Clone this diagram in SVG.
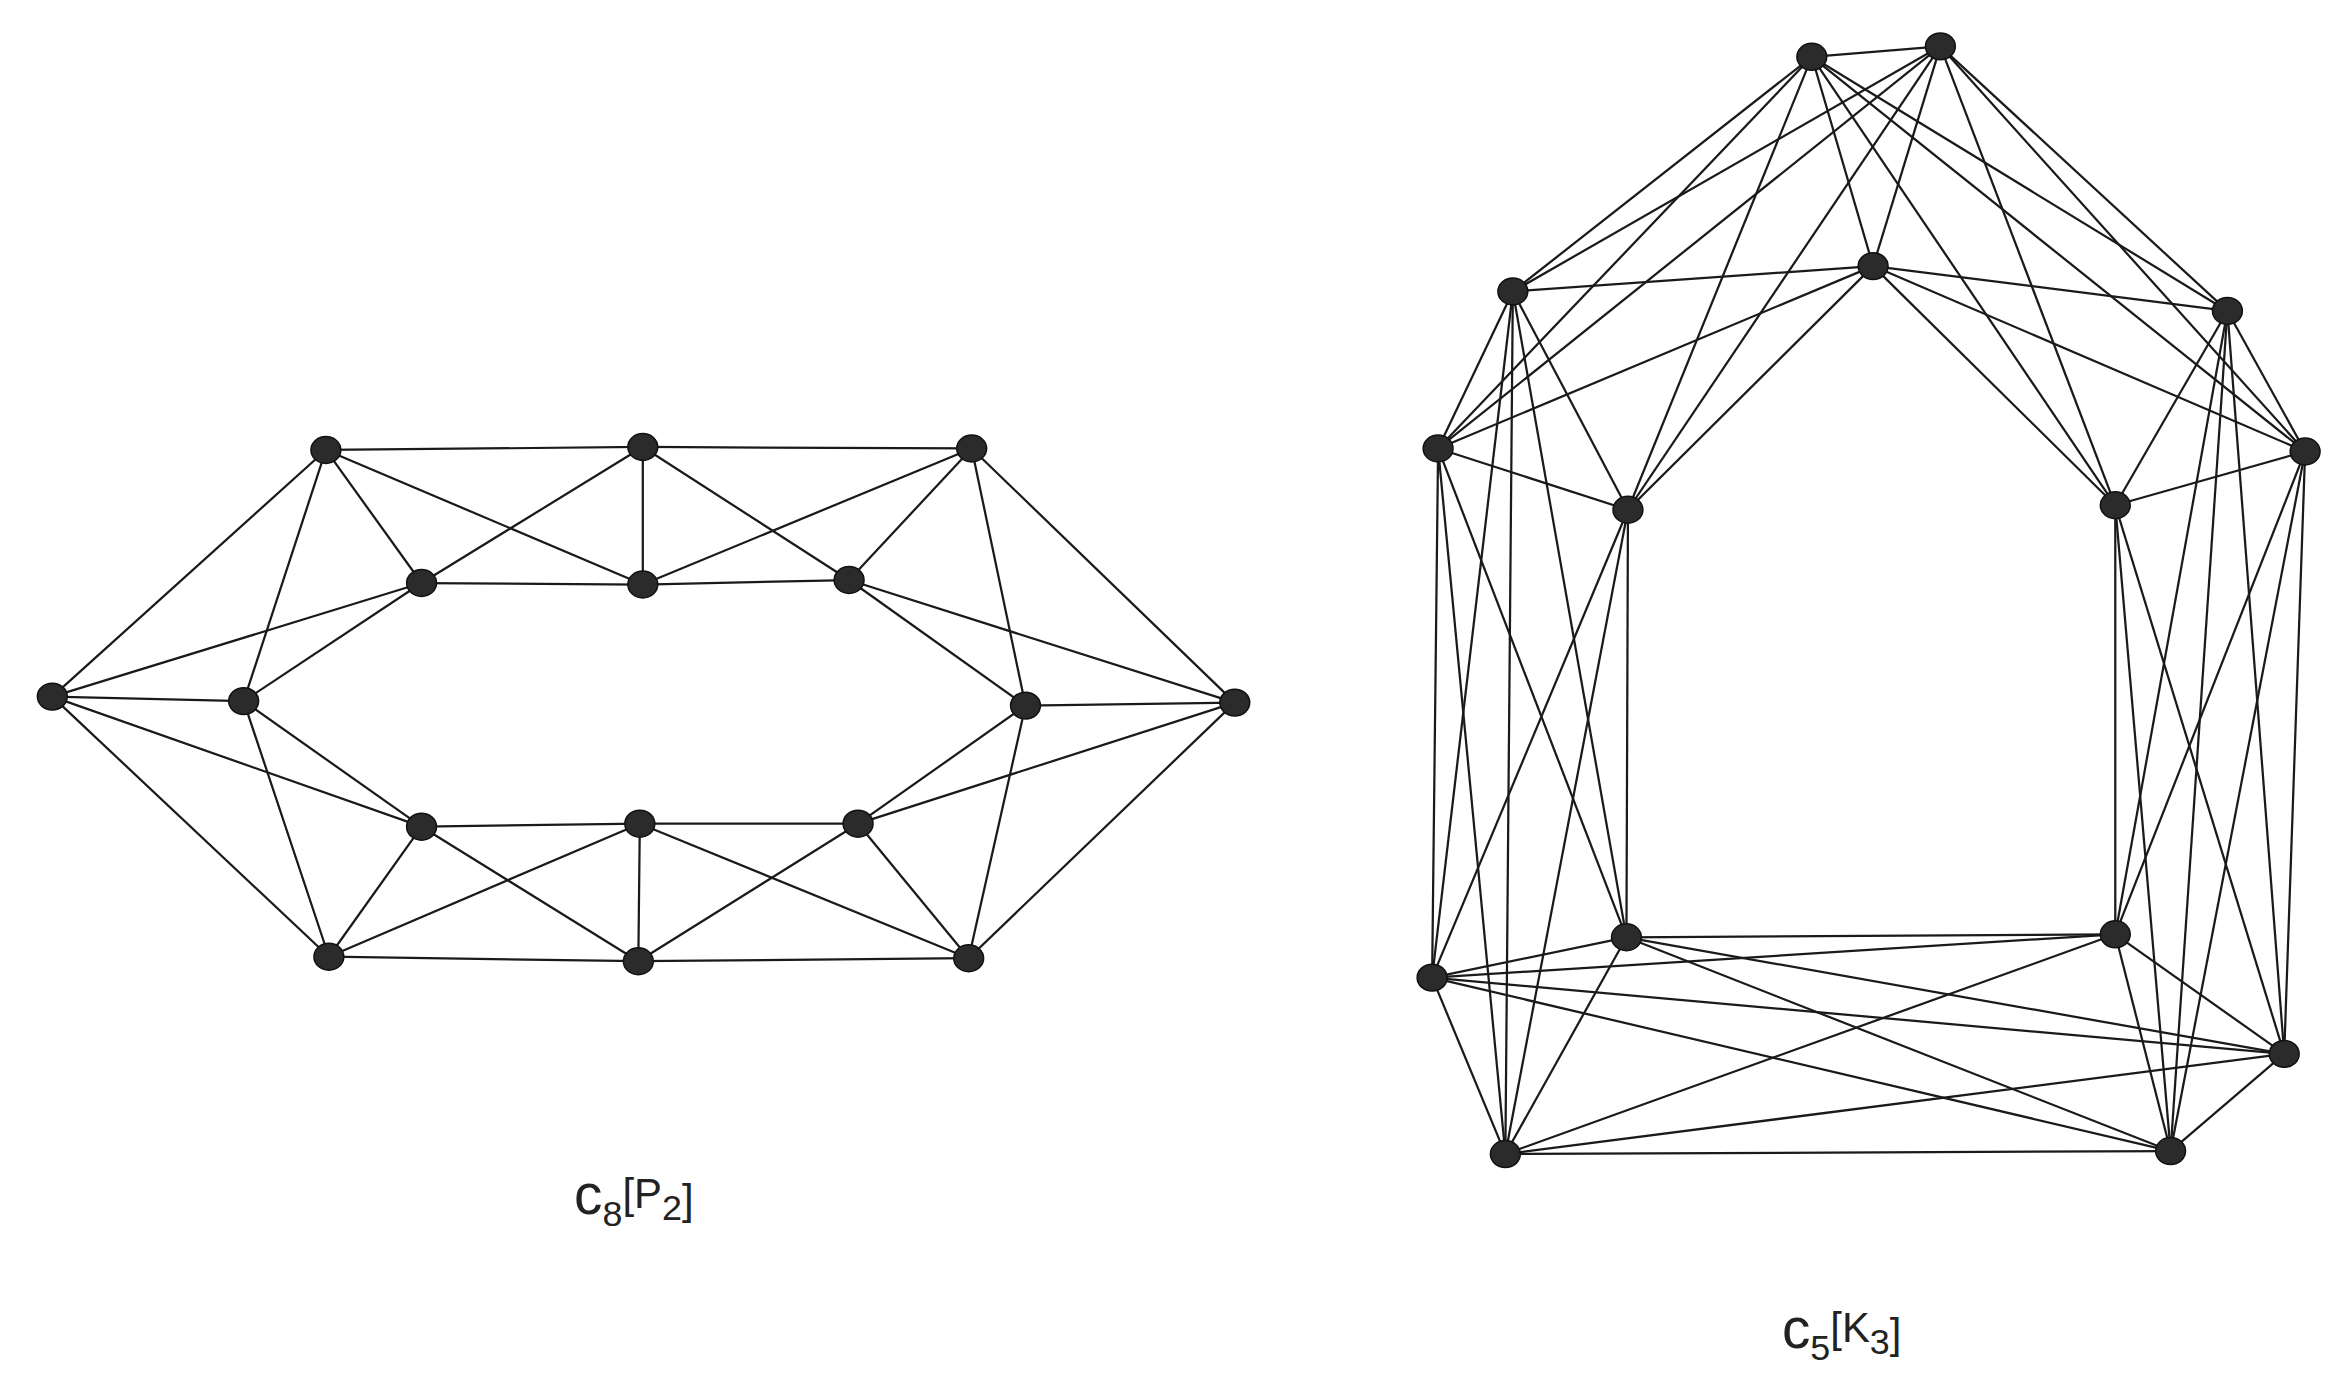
<svg xmlns="http://www.w3.org/2000/svg" width="2344" height="1388" viewBox="0 0 2344 1388">
<style>
line{stroke:#1a1a1a;stroke-width:1.5}
ellipse{fill:#2b2b2b;stroke:#111;stroke-width:1}
text{font-family:"Liberation Sans",Arial,sans-serif;fill:#222}
</style>
<rect width="2344" height="1388" fill="#fff"/>
<g transform="scale(1.4949)">
<g id="connectors">
<line x1="35" y1="466" x2="163" y2="469"/>
<line x1="218" y1="301" x2="282" y2="390"/>
<line x1="430" y1="299" x2="430" y2="391"/>
<line x1="650" y1="300" x2="568" y2="388"/>
<line x1="826" y1="470" x2="686" y2="472"/>
<line x1="648" y1="641" x2="574" y2="551"/>
<line x1="427" y1="643" x2="428" y2="551"/>
<line x1="220" y1="640" x2="282" y2="553"/>
<!-- A-B -->
<line x1="35" y1="466" x2="218" y2="301"/><line x1="35" y1="466" x2="282" y2="390"/>
<line x1="163" y1="469" x2="218" y2="301"/><line x1="163" y1="469" x2="282" y2="390"/>
<!-- B-C -->
<line x1="218" y1="301" x2="430" y2="299"/><line x1="218" y1="301" x2="430" y2="391"/>
<line x1="282" y1="390" x2="430" y2="299"/><line x1="282" y1="390" x2="430" y2="391"/>
<!-- C-D -->
<line x1="430" y1="299" x2="650" y2="300"/><line x1="430" y1="299" x2="568" y2="388"/>
<line x1="430" y1="391" x2="650" y2="300"/><line x1="430" y1="391" x2="568" y2="388"/>
<!-- D-E -->
<line x1="650" y1="300" x2="826" y2="470"/><line x1="650" y1="300" x2="686" y2="472"/>
<line x1="568" y1="388" x2="826" y2="470"/><line x1="568" y1="388" x2="686" y2="472"/>
<!-- E-F -->
<line x1="826" y1="470" x2="648" y2="641"/><line x1="826" y1="470" x2="574" y2="551"/>
<line x1="686" y1="472" x2="648" y2="641"/><line x1="686" y1="472" x2="574" y2="551"/>
<!-- F-G -->
<line x1="648" y1="641" x2="427" y2="643"/><line x1="648" y1="641" x2="428" y2="551"/>
<line x1="574" y1="551" x2="427" y2="643"/><line x1="574" y1="551" x2="428" y2="551"/>
<!-- G-H -->
<line x1="427" y1="643" x2="220" y2="640"/><line x1="427" y1="643" x2="282" y2="553"/>
<line x1="428" y1="551" x2="220" y2="640"/><line x1="428" y1="551" x2="282" y2="553"/>
<!-- H-A -->
<line x1="220" y1="640" x2="35" y2="466"/><line x1="220" y1="640" x2="163" y2="469"/>
<line x1="282" y1="553" x2="35" y2="466"/><line x1="282" y1="553" x2="163" y2="469"/>

<!-- right: triangles -->
<line x1="1212" y1="38" x2="1298" y2="31"/><line x1="1212" y1="38" x2="1253" y2="178"/><line x1="1298" y1="31" x2="1253" y2="178"/>
<line x1="1012" y1="195" x2="962" y2="300"/><line x1="1012" y1="195" x2="1089" y2="341"/><line x1="962" y1="300" x2="1089" y2="341"/>
<line x1="1490" y1="208" x2="1542" y2="302"/><line x1="1490" y1="208" x2="1415" y2="338"/><line x1="1542" y1="302" x2="1415" y2="338"/>
<line x1="958" y1="654" x2="1007" y2="772"/><line x1="958" y1="654" x2="1088" y2="627"/><line x1="1007" y1="772" x2="1088" y2="627"/>
<line x1="1415" y1="625" x2="1528" y2="705"/><line x1="1415" y1="625" x2="1452" y2="770"/><line x1="1528" y1="705" x2="1452" y2="770"/>
<!-- T-UL -->
<line x1="1212" y1="38" x2="1012" y2="195"/><line x1="1212" y1="38" x2="962" y2="300"/><line x1="1212" y1="38" x2="1089" y2="341"/>
<line x1="1298" y1="31" x2="1012" y2="195"/><line x1="1298" y1="31" x2="962" y2="300"/><line x1="1298" y1="31" x2="1089" y2="341"/>
<line x1="1253" y1="178" x2="1012" y2="195"/><line x1="1253" y1="178" x2="962" y2="300"/><line x1="1253" y1="178" x2="1089" y2="341"/>
<!-- T-UR -->
<line x1="1212" y1="38" x2="1490" y2="208"/><line x1="1212" y1="38" x2="1542" y2="302"/><line x1="1212" y1="38" x2="1415" y2="338"/>
<line x1="1298" y1="31" x2="1490" y2="208"/><line x1="1298" y1="31" x2="1542" y2="302"/><line x1="1298" y1="31" x2="1415" y2="338"/>
<line x1="1253" y1="178" x2="1490" y2="208"/><line x1="1253" y1="178" x2="1542" y2="302"/><line x1="1253" y1="178" x2="1415" y2="338"/>
<!-- UL-LL -->
<line x1="1012" y1="195" x2="958" y2="654"/><line x1="1012" y1="195" x2="1007" y2="772"/><line x1="1012" y1="195" x2="1088" y2="627"/>
<line x1="962" y1="300" x2="958" y2="654"/><line x1="962" y1="300" x2="1007" y2="772"/><line x1="962" y1="300" x2="1088" y2="627"/>
<line x1="1089" y1="341" x2="958" y2="654"/><line x1="1089" y1="341" x2="1007" y2="772"/><line x1="1089" y1="341" x2="1088" y2="627"/>
<!-- UR-LR -->
<line x1="1490" y1="208" x2="1415" y2="625"/><line x1="1490" y1="208" x2="1528" y2="705"/><line x1="1490" y1="208" x2="1452" y2="770"/>
<line x1="1542" y1="302" x2="1415" y2="625"/><line x1="1542" y1="302" x2="1528" y2="705"/><line x1="1542" y1="302" x2="1452" y2="770"/>
<line x1="1415" y1="338" x2="1415" y2="625"/><line x1="1415" y1="338" x2="1528" y2="705"/><line x1="1415" y1="338" x2="1452" y2="770"/>
<!-- LL-LR -->
<line x1="958" y1="654" x2="1415" y2="625"/><line x1="958" y1="654" x2="1528" y2="705"/><line x1="958" y1="654" x2="1452" y2="770"/>
<line x1="1007" y1="772" x2="1415" y2="625"/><line x1="1007" y1="772" x2="1528" y2="705"/><line x1="1007" y1="772" x2="1452" y2="770"/>
<line x1="1088" y1="627" x2="1415" y2="625"/><line x1="1088" y1="627" x2="1528" y2="705"/><line x1="1088" y1="627" x2="1452" y2="770"/>
</g>
<g id="n-a1"><ellipse cx="35" cy="466" rx="10" ry="9"/></g>
<g id="n-a2"><ellipse cx="163" cy="469" rx="10" ry="9"/></g>
<g id="n-b1"><ellipse cx="218" cy="301" rx="10" ry="9"/></g>
<g id="n-b2"><ellipse cx="282" cy="390" rx="10" ry="9"/></g>
<g id="n-c1"><ellipse cx="430" cy="299" rx="10" ry="9"/></g>
<g id="n-c2"><ellipse cx="430" cy="391" rx="10" ry="9"/></g>
<g id="n-d1"><ellipse cx="650" cy="300" rx="10" ry="9"/></g>
<g id="n-d2"><ellipse cx="568" cy="388" rx="10" ry="9"/></g>
<g id="n-e1"><ellipse cx="826" cy="470" rx="10" ry="9"/></g>
<g id="n-e2"><ellipse cx="686" cy="472" rx="10" ry="9"/></g>
<g id="n-f1"><ellipse cx="648" cy="641" rx="10" ry="9"/></g>
<g id="n-f2"><ellipse cx="574" cy="551" rx="10" ry="9"/></g>
<g id="n-g1"><ellipse cx="427" cy="643" rx="10" ry="9"/></g>
<g id="n-g2"><ellipse cx="428" cy="551" rx="10" ry="9"/></g>
<g id="n-h1"><ellipse cx="220" cy="640" rx="10" ry="9"/></g>
<g id="n-h2"><ellipse cx="282" cy="553" rx="10" ry="9"/></g>
<g id="n-t1"><ellipse cx="1212" cy="38" rx="10" ry="9"/></g>
<g id="n-t2"><ellipse cx="1298" cy="31" rx="10" ry="9"/></g>
<g id="n-t3"><ellipse cx="1253" cy="178" rx="10" ry="9"/></g>
<g id="n-u1"><ellipse cx="1012" cy="195" rx="10" ry="9"/></g>
<g id="n-u2"><ellipse cx="962" cy="300" rx="10" ry="9"/></g>
<g id="n-u3"><ellipse cx="1089" cy="341" rx="10" ry="9"/></g>
<g id="n-r1"><ellipse cx="1490" cy="208" rx="10" ry="9"/></g>
<g id="n-r2"><ellipse cx="1542" cy="302" rx="10" ry="9"/></g>
<g id="n-r3"><ellipse cx="1415" cy="338" rx="10" ry="9"/></g>
<g id="n-l1"><ellipse cx="958" cy="654" rx="10" ry="9"/></g>
<g id="n-l2"><ellipse cx="1007" cy="772" rx="10" ry="9"/></g>
<g id="n-l3"><ellipse cx="1088" cy="627" rx="10" ry="9"/></g>
<g id="n-m1"><ellipse cx="1415" cy="625" rx="10" ry="9"/></g>
<g id="n-m2"><ellipse cx="1528" cy="705" rx="10" ry="9"/></g>
<g id="n-m3"><ellipse cx="1452" cy="770" rx="10" ry="9"/></g>
<text x="384" y="812" font-size="38">c<tspan font-size="24" dy="8">8</tspan><tspan font-size="28" dy="-12">[P</tspan><tspan font-size="24" dy="8">2</tspan><tspan font-size="28" dy="-4">]</tspan></text>
<text x="1192" y="902" font-size="38">c<tspan font-size="24" dy="8">5</tspan><tspan font-size="28" dy="-12">[K</tspan><tspan font-size="24" dy="8">3</tspan><tspan font-size="28" dy="-4">]</tspan></text>
</g>
</svg>
